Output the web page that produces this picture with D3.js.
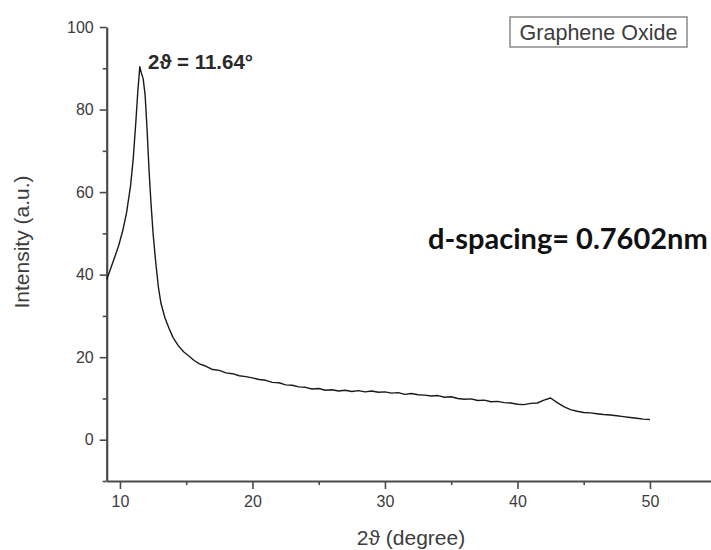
<!DOCTYPE html>
<html>
<head>
<meta charset="utf-8">
<script src="https://cdn.jsdelivr.net/npm/d3@7"></script>
<style>
  html, body { margin: 0; padding: 0; background: #fff; }
  svg { display: block; }
  .axis path, .axis line { stroke: #4a4a4a; }
  .axis text { font-family: "Liberation Sans", Arial, sans-serif; fill: #3c3c3c; }
</style>
</head>
<body>
<svg id="chart" width="711" height="550"></svg>
<script>
// XRD pattern of graphene oxide: diffraction angle 2θ (degree) vs intensity (a.u.)
const twoTheta = [
  9.0, 9.3, 9.6, 9.9, 10.2, 10.5, 10.8, 11.0, 11.2, 11.35, 11.5, 11.6, 11.75, 11.9,
  12.05, 12.2, 12.35, 12.5, 12.7, 12.9, 13.1, 13.4, 13.7, 14.0, 14.4, 14.8, 15.2, 15.6,
  16.0, 16.5, 17.0, 17.5, 18.0, 18.5, 19.0, 19.5, 20.0, 20.5, 21.0, 21.5, 22.0, 22.5,
  23.0, 23.5, 24.0, 24.5, 25.0, 25.5, 26.0, 26.5, 27.0, 27.5, 28.0, 28.5, 29.0, 29.5,
  30.0, 30.5, 31.0, 31.5, 32.0, 32.5, 33.0, 33.5, 34.0, 34.5, 35.0, 35.5, 36.0, 36.5,
  37.0, 37.5, 38.0, 38.5, 39.0, 39.5, 40.0, 40.5, 41.0, 41.5, 42.0, 42.5, 43.0, 43.5,
  44.0, 44.5, 45.0, 45.5, 46.0, 46.5, 47.0, 47.5, 48.0, 48.5, 49.0, 49.5, 50.0
];
const intensity = [
  38.8, 41.5, 44.2, 47.0, 50.5, 55.0, 61.5, 68.0, 77.0, 84.5, 90.4, 89.0, 87.5, 83.5,
  75.0, 65.0, 57.0, 50.0, 43.0, 37.0, 33.0, 29.5, 27.0, 24.8, 22.8, 21.3, 20.3, 19.2,
  18.4, 17.8, 17.0, 16.8, 16.2, 16.0, 15.5, 15.3, 15.0, 14.6, 14.4, 13.9, 13.8, 13.3,
  13.2, 12.8, 12.7, 12.3, 12.4, 12.0, 12.1, 11.8, 12.0, 11.7, 11.9, 11.6, 11.8, 11.5,
  11.6, 11.3, 11.4, 11.0, 11.2, 10.9, 10.8, 10.6, 10.7, 10.3, 10.4, 10.0, 9.8, 9.9,
  9.5, 9.6, 9.2, 9.3, 9.0, 8.9, 8.6, 8.5, 8.8, 8.9, 9.6, 10.1, 9.0, 8.0,
  7.3, 6.9, 6.6, 6.5, 6.3, 6.1, 6.0, 5.8, 5.6, 5.4, 5.2, 5.0, 4.9
];
const xMajorTicks = [10, 20, 30, 40, 50];
const xMinorTicks = [15, 25, 35, 45];
const yMajorTicks = [0, 20, 40, 60, 80, 100];
const yMinorTicks = [-10, 10, 30, 50, 70, 90];
const xTitle = "2ϑ (degree)";
const yTitle = "Intensity (a.u.)";
const legendLabel = "Graphene Oxide";
const peakLabel = "2ϑ = 11.64°";
const spacingLabel = "d-spacing= 0.7602nm";

const svg = d3.select("#chart");

const x = d3.scaleLinear().domain([9, 55]).range([106.7, 106.7 + 46 * 13.25]);
const y = d3.scaleLinear().domain([-10, 100]).range([481, 27]);

const fmt = d3.format("d");

// bottom axis: long major ticks with labels, short unlabeled minor ticks
const xAxisG = svg.append("g").attr("class", "axis").attr("transform", `translate(0,${y(-10)})`);
xAxisG.call(d3.axisBottom(x).tickValues(xMajorTicks).tickFormat(fmt).tickSizeInner(8).tickSizeOuter(0).tickPadding(7));
xAxisG.call(g => g.select(".domain").attr("stroke-width", 2.2));
xAxisG.selectAll(".tick line").attr("stroke-width", 1.6);
xAxisG.selectAll(".tick text").attr("font-size", 16);
const xMinorG = svg.append("g").attr("class", "axis").attr("transform", `translate(0,${y(-10)})`);
xMinorG.call(d3.axisBottom(x).tickValues(xMinorTicks).tickFormat("").tickSizeInner(4).tickSizeOuter(0));
xMinorG.select(".domain").remove();
xMinorG.selectAll(".tick line").attr("stroke-width", 1.6);

// left axis
const yAxisG = svg.append("g").attr("class", "axis").attr("transform", `translate(${x(9)},0)`);
yAxisG.call(d3.axisLeft(y).tickValues(yMajorTicks).tickFormat(fmt).tickSizeInner(7).tickSizeOuter(0).tickPadding(6));
yAxisG.call(g => g.select(".domain").attr("stroke-width", 2.2));
yAxisG.selectAll(".tick line").attr("stroke-width", 1.6);
yAxisG.selectAll(".tick text").attr("font-size", 16);
const yMinorG = svg.append("g").attr("class", "axis").attr("transform", `translate(${x(9)},0)`);
yMinorG.call(d3.axisLeft(y).tickValues(yMinorTicks).tickFormat("").tickSizeInner(4).tickSizeOuter(0));
yMinorG.select(".domain").remove();
yMinorG.selectAll(".tick line").attr("stroke-width", 1.6);

// axis titles
svg.append("text")
  .attr("x", 411).attr("y", 545)
  .attr("text-anchor", "middle")
  .attr("font-family", "Liberation Sans, Arial, sans-serif")
  .attr("font-size", 21).attr("fill", "#3c3c3c")
  .text(xTitle);
svg.append("text")
  .attr("transform", "translate(29,242) rotate(-90)")
  .attr("text-anchor", "middle")
  .attr("font-family", "Liberation Sans, Arial, sans-serif")
  .attr("font-size", 21).attr("fill", "#3c3c3c")
  .text(yTitle);

// diffraction trace
const pts = twoTheta.map((t, i) => [t, intensity[i]]);
svg.append("path")
  .datum(pts)
  .attr("fill", "none")
  .attr("stroke", "#1a1a1a")
  .attr("stroke-width", 1.4)
  .attr("stroke-linejoin", "round")
  .attr("d", d3.line().x(d => x(d[0])).y(d => y(d[1])));

// peak position annotation
svg.append("text")
  .attr("x", 148).attr("y", 69)
  .attr("font-family", "Liberation Sans, Arial, sans-serif")
  .attr("font-weight", "bold")
  .attr("font-size", 20.5).attr("fill", "#2a2a2a")
  .text(peakLabel);

// interlayer spacing annotation
svg.append("text")
  .attr("x", 428).attr("y", 249)
  .attr("font-family", "Lato, 'Open Sans', sans-serif")
  .attr("font-weight", "bold")
  .attr("font-size", 29).attr("fill", "#111")
  .text(spacingLabel);

// legend box
svg.append("rect")
  .attr("x", 510).attr("y", 17).attr("width", 177).attr("height", 30)
  .attr("fill", "#fff").attr("stroke", "#8a8a8a").attr("stroke-width", 1.5);
svg.append("text")
  .attr("x", 598.5).attr("y", 39.5)
  .attr("text-anchor", "middle")
  .attr("font-family", "Liberation Sans, Arial, sans-serif")
  .attr("font-size", 21.5).attr("fill", "#3c3c3c")
  .text(legendLabel);
</script>
</body>
</html>
